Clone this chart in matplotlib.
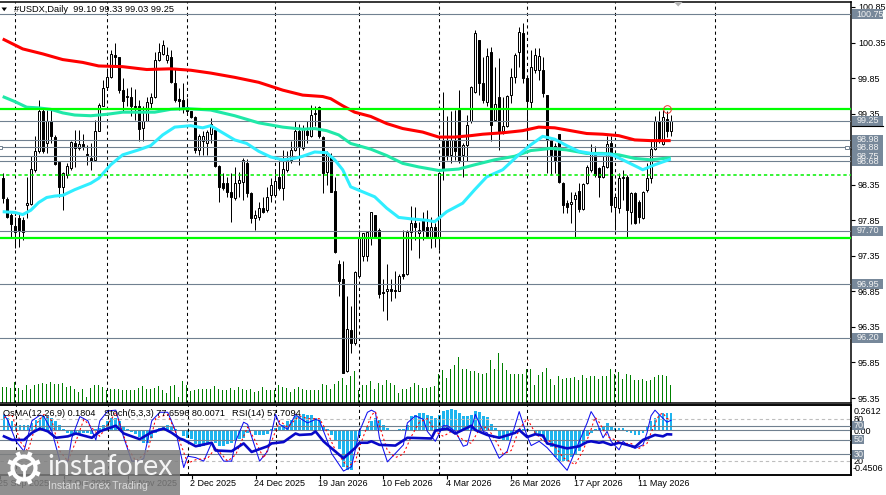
import numpy as np
import matplotlib
matplotlib.use("Agg")
import matplotlib.pyplot as plt
from matplotlib.patches import Rectangle, Circle, Polygon

plt.rcParams['font.family'] = ['Liberation Sans', 'DejaVu Sans']

opens = [98.44,98.15,97.92,97.77,97.88,97.85,98.07,98.08,98.56,98.82,
99.38,98.93,99.24,99.02,98.67,98.32,98.48,98.58,98.93,98.86,
98.92,98.78,98.72,98.70,99.11,99.46,99.72,99.86,100.18,100.14,
99.68,99.59,99.59,99.45,99.45,99.15,99.25,99.50,99.58,100.10,
100.19,100.11,100.14,99.78,99.55,99.54,99.44,99.38,99.30,98.84,
98.96,98.94,99.07,99.12,98.62,98.38,98.38,98.25,98.16,98.37,
98.39,98.65,98.24,97.88,97.89,98.02,98.00,98.21,98.21,98.46,
98.30,98.56,98.70,98.84,99.11,98.86,99.11,99.03,99.35,99.44,
99.02,98.53,98.75,98.26,97.23,97.02,95.73,96.31,96.12,97.07,
97.35,97.35,97.62,97.92,97.71,96.84,96.85,96.88,96.87,96.86,
97.09,97.09,97.69,97.81,97.67,97.85,97.76,97.62,97.76,97.62,
98.98,98.98,98.77,98.98,99.40,98.77,98.91,99.24,99.66,100.38,
99.78,99.52,100.22,99.26,99.58,99.10,99.17,99.61,99.86,100.21,
100.48,99.85,99.52,99.97,99.97,99.97,99.61,98.98,98.89,99.06,
98.38,98.09,98.08,98.15,98.26,98.01,98.37,98.56,98.77,98.58,
98.46,98.60,98.93,98.04,98.02,98.44,98.46,97.97,98.23,98.11,
97.88,98.27,98.44,98.85,99.25,98.92,99.27,99.10]
highs = [98.51,98.18,97.95,97.90,97.95,97.90,98.46,98.75,99.03,99.54,
99.43,99.40,99.43,99.05,98.67,98.53,98.65,98.96,99.12,99.12,
99.07,98.91,98.93,99.26,99.50,99.82,99.99,100.25,100.34,100.15,
99.85,99.71,99.72,99.69,99.54,99.45,99.59,99.64,100.22,100.34,
100.39,100.29,100.25,99.99,99.71,99.78,99.57,99.38,99.31,99.07,
99.10,99.12,99.29,99.14,98.63,98.51,98.46,98.51,98.60,98.53,
98.72,98.71,98.25,97.99,98.11,98.18,98.32,98.44,98.56,98.70,
98.84,98.82,98.96,99.24,99.21,99.19,99.24,99.47,99.45,99.45,
99.03,98.82,98.79,98.46,97.29,97.27,96.78,96.64,97.13,97.71,
97.67,97.69,97.97,97.92,97.74,97.03,97.24,97.03,97.13,97.10,
97.71,97.71,98.05,98.04,97.83,97.97,97.99,97.90,97.81,98.53,
99.66,99.31,99.38,99.40,99.68,98.93,99.33,99.74,100.53,100.39,
100.15,100.27,100.29,100.01,100.13,99.59,99.61,99.99,100.20,100.57,
100.62,99.87,100.25,100.27,100.27,100.15,99.61,99.00,98.93,99.07,
98.39,98.14,98.25,98.25,98.37,98.37,98.63,98.92,98.89,98.60,
98.75,99.03,99.03,98.23,98.51,98.56,98.49,98.25,98.25,98.14,
98.26,98.65,98.96,99.31,99.38,99.40,99.38,99.33]
lows = [98.09,97.88,97.62,97.46,97.48,97.57,97.88,98.07,98.53,98.79,
98.79,98.79,98.93,98.63,98.18,97.99,98.44,98.56,98.60,98.84,
98.84,98.63,98.56,98.68,99.10,99.45,99.71,99.85,100.01,99.64,
99.38,99.45,99.31,99.26,98.96,98.96,99.24,99.43,99.57,100.09,
100.18,100.06,99.78,99.52,99.40,99.36,99.33,99.29,98.79,98.77,
98.77,98.77,98.93,98.60,98.10,98.28,98.18,97.83,98.14,98.18,
98.14,98.18,97.81,97.71,97.85,97.95,97.97,98.11,98.18,98.28,
98.14,98.53,98.65,98.83,98.63,98.84,98.93,99.02,99.17,99.00,
98.23,98.35,98.25,97.39,96.78,95.70,95.72,95.98,96.10,97.06,
97.28,97.28,97.50,97.60,96.76,96.57,96.45,96.71,96.75,96.85,
97.03,97.08,97.43,97.57,97.32,97.57,97.60,97.46,97.48,97.43,
98.42,98.70,98.65,98.70,98.65,98.46,98.68,99.22,99.64,99.61,
99.50,99.45,98.96,99.24,98.84,99.07,99.16,99.50,99.78,100.01,
99.78,99.00,99.43,99.92,99.82,99.59,98.51,98.49,98.51,98.37,
97.95,97.95,97.81,97.62,97.97,98.00,98.36,98.53,98.46,98.18,
98.45,98.58,97.97,97.71,97.95,98.14,97.62,97.80,97.80,97.81,
97.87,98.25,98.38,98.84,98.93,98.91,99.02,99.03]
closes = [98.16,97.90,97.80,97.69,97.71,97.69,98.09,98.57,98.82,99.38,
98.82,99.24,99.03,98.64,98.32,98.51,98.62,98.95,98.86,98.92,
98.89,98.77,98.69,99.11,99.47,99.71,99.86,100.19,100.14,99.68,
99.53,99.60,99.45,99.44,99.14,99.25,99.51,99.58,100.10,100.21,
100.31,100.18,99.79,99.54,99.53,99.43,99.38,99.30,98.84,99.04,
99.04,99.09,99.21,98.62,98.32,98.31,98.25,98.18,98.38,98.42,
98.70,98.23,97.88,97.93,98.02,97.97,98.18,98.35,98.40,98.30,
98.57,98.70,98.84,99.11,98.89,99.14,99.05,99.33,99.36,99.03,
98.51,98.79,98.25,97.41,97.00,95.70,96.32,96.13,97.12,97.60,
97.67,97.69,97.96,97.61,96.81,96.83,96.89,96.86,96.86,97.07,
97.07,97.69,97.81,97.76,97.71,97.71,97.63,97.76,97.61,98.51,
98.56,98.77,98.98,98.83,98.68,98.91,99.19,99.72,100.48,99.78,
99.54,100.16,99.19,99.48,99.10,99.18,99.60,99.86,100.18,100.50,
99.85,99.53,100.00,100.18,100.16,99.64,98.98,98.77,98.68,98.39,
98.07,98.04,98.11,98.20,98.01,98.36,98.60,98.79,98.49,98.46,
98.61,98.92,98.07,98.18,98.44,98.46,98.00,98.24,97.81,97.90,
98.25,98.45,98.85,99.25,98.96,99.30,99.11,99.25]

volumes = [47,47,45,62,45,37,54,42,54,57,59,57,62,55,57,59,47,49,42,32,42,16,44,54,54,
47,39,40,42,42,39,39,37,39,44,49,42,42,44,49,39,30,50,52,16,65,52,36,39,40,
40,40,40,49,40,37,39,44,39,47,40,39,42,32,36,46,39,39,39,52,46,44,32,42,46,
40,39,39,39,39,57,52,40,57,64,75,54,79,94,37,54,54,64,40,60,54,67,60,52,30,
42,40,46,60,54,44,44,47,50,87,97,75,100,112,137,100,102,94,94,90,87,89,127,100,150,
120,97,87,87,87,87,102,100,52,82,92,105,70,54,80,72,75,75,77,69,82,74,80,80,70,
79,80,100,87,92,70,87,82,67,67,72,65,67,76,82,82,79,52]

osma = [.157,.125,.092,.059,.052,.052,.059,.075,.108,.125,.141,.141,.125,.092,.059,.016,-.023,-.033,-.039,-.039,
-.023,-.023,-.033,.010,.026,.059,.092,.125,.125,.092,.043,.010,-.013,-.039,-.066,-.121,-.121,-.072,-.023,.026,
.043,.059,.043,.010,-.007,-.056,-.072,-.089,-.138,-.170,-.154,-.121,-.105,-.121,-.154,-.154,-.138,-.121,-.105,-.089,
-.072,-.023,-.007,-.046,-.046,-.046,-.039,.010,.026,.043,.059,.092,.108,.141,.141,
.164,.157,.151,.125,.108,.043,.010,-.046,-.105,-.187,-.367,-.400,-.400,-.170,-.056,-.007,.043,.092,.125,.108,
.059,.026,0,0,.010,.016,.059,.141,.157,.174,.174,.157,.141,.125,.151,.200,.210,.216,.207,.174,
.141,.141,.157,.200,.190,.141,.134,.069,.020,-.066,-.105,-.105,-.039,-.007,.016,.010,.010,-.007,-.023,-.056,
-.072,-.105,-.170,-.269,-.302,-.308,-.308,-.269,-.236,-.203,-.138,-.056,-.023,.010,.026,
.033,.075,.043,.020,.020,.020,-.013,-.023,-.046,-.046,-.023,.043,.092,.125,.157,.174,.180,.1804]

ma_red_x = [0,5,10,15,20,24,30,36,42,47,52,58,64,70,75,80,82,85,88,92,96,100,105,109,113,117,120,125,130,134,138,142,146,150,154,158,162,167]
ma_red = [100.40,100.26,100.19,100.11,100.07,100.02,100.01,99.97,99.98,99.96,99.92,99.86,99.79,99.68,99.61,99.59,99.56,99.46,99.37,99.31,99.21,99.14,99.09,99.02,99.02,99.04,99.06,99.08,99.11,99.16,99.15,99.11,99.07,99.06,99.04,98.98,98.97,98.97]
ma_teal_x = [0,3,6,9,12,15,18,22,26,30,34,38,42,46,52,58,64,70,75,78,81,84,87,92,96,100,104,109,114,118,123,128,132,137,141,146,150,154,158,162,167]
ma_teal = [99.59,99.52,99.44,99.43,99.41,99.36,99.33,99.32,99.34,99.37,99.37,99.37,99.41,99.42,99.40,99.32,99.22,99.16,99.13,99.14,99.11,99.05,98.93,98.85,98.76,98.65,98.60,98.55,98.57,98.63,98.70,98.75,98.83,98.86,98.84,98.79,98.79,98.77,98.72,98.70,98.73]
ma_cyan_x = [0,3,5,7,9,11,13,15,18,22,24,27,30,34,37,40,43,47,50,52,55,58,61,64,67,70,73,75,78,81,83,85,87,90,93,96,99,102,106,108,111,115,118,121,125,129,132,135,138,141,144,148,152,155,159,160,163,167]
ma_cyan = [97.97,97.96,97.93,97.99,98.10,98.17,98.19,98.20,98.28,98.37,98.44,98.63,98.77,98.84,98.90,99.05,99.16,99.18,99.15,99.18,99.08,98.98,98.93,98.82,98.74,98.70,98.72,98.75,98.81,98.80,98.70,98.56,98.32,98.25,98.18,98.02,97.89,97.87,97.85,97.83,97.97,98.09,98.28,98.46,98.56,98.77,98.91,99.03,98.99,98.90,98.82,98.78,98.78,98.70,98.59,98.56,98.63,98.71]

stoch_x = [0,1,3,5,7,9,10,12,14,16,17,19,21,23,24,26,28,30,32,34,35,37,39,41,43,45,46,48,50,52,55,57,58,60,61,64,66,68,69,71,73,74,
76,78,79,81,82,85,87,89,91,92,93,94,96,98,100,101,103,105,106,108,110,111,113,115,116,118,120,121,124,126,129,131,132,134,136,141,143,146,147,
148,150,151,152,154,155,156,158,160,161,162,163,164,166,167]
stoch = [86,77,48,34,77,85,83,62,20,20,53,83,77,50,77,91,92,53,20,20,24,77,89,89,62,11,27,25,20,46,20,20,48,75,72,20,34,86,72,65,86,81,
74,79,77,48,31,6,12,62,89,92,89,53,19,31,43,74,84,79,62,48,70,70,62,41,43,86,62,60,24,34,90,55,42,48,39,7,34,74,90,
81,53,62,48,36,48,43,38,43,60,84,92,86,75,77.6596]
signal_x = [0,2,4,6,8,10,12,14,16,18,20,22,24,28,31,33,36,38,41,44,46,48,51,53,56,58,61,63,65,67,69,71,73,74,
76,79,81,83,86,88,89,91,92,93,94,96,98,100,102,104,106,108,110,112,115,117,119,121,123,125,127,129,131,133,135,137,140,143,145,147,148,149,
151,153,155,157,159,161,162,164,165,166,167]
signal = [81,86,48,34,72,86,77,34,20,48,79,67,55,89,39,20,34,81,86,48,17,22,24,39,20,29,68,48,24,48,77,68,79,84,
80,80,60,35,12,20,40,70,85,90,70,35,25,30,55,75,80,62,55,62,50,45,65,68,50,30,35,65,80,60,48,48,25,15,35,65,82,75,
55,50,45,45,38,45,60,85,88,80,80.0071]
rsi_x = [0,2,5,7,9,11,13,16,18,22,24,28,30,34,37,40,42,44,45,48,52,53,57,60,62,66,67,70,73,
74,77,78,80,81,85,88,89,91,92,94,98,101,107,108,111,113,117,118,121,124,128,129,131,133,135,136,141,144,146,147,149,
150,152,154,156,158,160,163,165,166,167]
rsi = [55,50,50,60,66,62,53,55,59,53,62,70,59,51,61,66,60,52,50,41,46,35,34,45,33,41,45,47,59,
57,58,62,48,43,24,39,46,46,48,43,42,53,52,63,66,59,70,64,57,53,60,64,54,58,56,45,38,41,47,48,46,
47,43,46,43,40,50,57,55,58,57.7094]

tick_idx = [-1,15,31,47,63,79,95,111,127,143,159]
tick_labels = ['25 Sep 2025','17 Oct 2025','10 Nov 2025','2 Dec 2025','24 Dec 2025','19 Jan 2026','10 Feb 2026','4 Mar 2026','26 Mar 2026','17 Apr 2026','11 May 2026']
sep_idx = [3,26,46,68,89,109,131,153,178]
price_ticks = [100.85,100.35,99.85,99.35,98.85,98.35,97.85,97.35,96.85,96.35,95.85,95.35]
gray_levels = [100.75,99.25,98.98,98.88,98.75,98.68,97.70,96.95,96.20]
green_solid = [99.42,97.60]
green_dashed = [98.49]
osc_solid = [70,50,30]
osc_dashed = [80,20]

W, H = 886, 495
fig = plt.figure(figsize=(W/100, H/100), dpi=100, facecolor='white')

def axes_px(x0, y0, x1, y1, **kw):
    return fig.add_axes([x0/W, 1-y1/H, (x1-x0)/W, (y1-y0)/H], **kw)

LEFT, RIGHT = 0, 851
XLIM = ((LEFT-2.7)/4, (RIGHT-2.7)/4)

# ---------- main pane
ax = axes_px(LEFT, 1.5, RIGHT, 402.5)
ax.set_xlim(*XLIM)
ax.set_ylim(100.35-(402.5-42.5)/71.1, 100.35+(42.5-1.5)/71.1)
idx = np.arange(len(closes))
o, h, l, c = map(np.array, (opens, highs, lows, closes))

axv = ax.twinx()
axv.set_ylim(0, 401*3)
axv.bar(idx, volumes, width=0.25, color='#008000', linewidth=0, zorder=2)
axv.axis('off')
axv.set_zorder(1)
ax.set_zorder(2)
ax.patch.set_alpha(0)

ax.vlines(idx, l, h, color='black', lw=0.72, zorder=3)
up = c >= o
bottoms = np.minimum(o, c)
heights = np.abs(c-o)
ax.bar(idx, heights, bottom=bottoms, width=0.5, color=np.where(up, 'white', 'black'),
       edgecolor='black', linewidth=0.72, zorder=4)

ax.plot(ma_red_x, ma_red, color='#FF0000', lw=2.2, zorder=7.3, solid_capstyle='butt')
ax.plot(ma_teal_x, ma_teal, color='#20E8A8', lw=2.2, zorder=7.3, solid_capstyle='butt')
ax.plot(ma_cyan_x, ma_cyan, color='#30EEFF', lw=2.2, zorder=7.4, solid_capstyle='butt')

for lv in gray_levels:
    ax.axhline(lv, color='#708090', lw=0.8, zorder=7)
for lv in green_solid:
    ax.axhline(lv, color='#00FF00', lw=1.6, zorder=8)
for lv in green_dashed:
    ax.axhline(lv, color='#00F000', lw=1.1, ls=(0, (2.2, 1.8)), zorder=8)
for s in sep_idx:
    ax.axvline(s, color='black', lw=0.75, ls=(0, (3, 3)), zorder=3)
ax.plot([166], [99.42], marker='o', ms=5.5, mfc='none', mec='#F03030', mew=0.7, zorder=9)

ax.set_yticks(price_ticks)
ax.yaxis.tick_right()
ax.set_yticklabels([f'{p:.2f}' for p in price_ticks], fontsize=6.5)
ax.tick_params(axis='y', length=3, width=0.8, pad=2, colors='black')
ax.set_xticks([])
for sp in ('left',):
    ax.spines[sp].set_visible(False)
for sp in ('top','right','bottom'):
    ax.spines[sp].set_linewidth(1.1)

# ---------- lower pane
axo = axes_px(LEFT, 404.5, RIGHT, 475.3)
axo.set_xlim(*XLIM)
axo.set_ylim(-0.4506, 0.2612)
axo.bar(idx, osma, width=0.72, color='#1EB4EE', linewidth=0, zorder=2)
axo.axhline(0, color='#708090', lw=0.8, zorder=3)
axo.set_yticks([]); axo.set_xticks(tick_idx)
axo.set_xticklabels([])
axo.tick_params(axis='x', length=3, width=0.8)
axo.spines['left'].set_visible(False)
for sp in ('top','right','bottom'):
    axo.spines[sp].set_linewidth(1.1)

axs = axo.twinx()
axs.set_ylim(0, 100)
axs.set_yticks([])
axs.patch.set_alpha(0)
axs.spines['left'].set_visible(False)
for sp in ('top','right','bottom'):
    axs.spines[sp].set_linewidth(1.1)
for lv in osc_dashed:
    axs.axhline(lv, color='#BEBEBE', lw=0.8, ls=(0, (3, 2.6)), zorder=1)
for lv in osc_solid:
    axs.axhline(lv, color='#708090', lw=0.8, zorder=3)
for s in sep_idx:
    axs.axvline(s, color='black', lw=0.75, ls=(0, (3, 3)), zorder=3)
axs.plot(stoch_x, stoch, color='#1010F0', lw=0.75, zorder=4)
axs.plot(signal_x, signal, color='#FF0000', lw=0.75, ls=(0, (2, 2.5)), zorder=4)
axs.plot(rsi_x, rsi, color='#0808C8', lw=1.9, zorder=5)

# ---------- overlay in pixel coordinates
ov = fig.add_axes([0, 0, 1, 1], zorder=20)
ov.set_xlim(0, W); ov.set_ylim(H, 0); ov.axis('off'); ov.patch.set_alpha(0)

FS = 6.5
def box_label(txt, y, x0=852, x1=883, h=10, pad=4.5):
    ov.add_patch(Rectangle((x0, y-h/2), x1-x0, h, fc='#77889A', ec='none', zorder=2))
    ov.text(x0+pad, y, txt, color='#F2F2F2', fontsize=FS, va='center', ha='left', zorder=3)

def price_y(p):
    return 42.5+(100.35-p)*71.1

for lv in [100.75, 99.25, 97.70, 96.95, 96.20, 98.75, 98.88, 98.98, 98.68]:
    box_label(f'{lv:.2f}', price_y(lv))
ov.plot([852, 883], [125.5, 125.5], color='black', lw=0.8, zorder=4)

# oscillator scale labels
ov.text(854, 411.7, '0.2612', fontsize=FS, va='center', zorder=1)
ov.text(854, 419.5, '80', fontsize=FS, va='center', zorder=1)
ov.text(854, 431, '0.00', fontsize=FS, va='center', zorder=1)
ov.text(854, 461.5, '20', fontsize=FS, va='center', zorder=1)
ov.text(853, 468.5, '-0.4506', fontsize=FS, va='center', zorder=1)
for lv in osc_solid:
    y = 404.5+(100-lv)/100*70.8
    box_label(str(lv), y, x1=864, h=9, pad=1.8)

# header texts
ov.text(14, 9.3, '#USDX,Daily  99.10 99.33 99.03 99.25', fontsize=6.7, va='center', color='black')
ov.add_patch(Polygon([[1.5, 7.5], [7, 7.5], [4.2, 11.2]], fc='black', ec='none'))
ov.add_patch(Polygon([[674, 2], [682.5, 2], [678.2, 6.5]], fc='#B4B4B4', ec='none'))
ov.text(3, 413.5, 'OsMA(12,26,9) 0.1804', fontsize=6.55, va='center')
ov.text(104, 413.5, 'Stoch(5,3,3) 77.6596 80.0071', fontsize=6.55, va='center')
ov.text(232, 413.5, 'RSI(14) 57.7094', fontsize=6.75, va='center')

# selection handles on the 98.88 line
ov.add_patch(Rectangle((-1, 145.5), 3.5, 3.5, fc='white', ec='#708090', lw=0.7))
ov.add_patch(Rectangle((845.5, 145.5), 3.5, 3.5, fc='white', ec='#708090', lw=0.7))

# date labels
for t, lab in zip(tick_idx, tick_labels):
    ov.text(2.7+4*t-0.5, 484, lab, fontsize=6.5, va='center', ha='left', zorder=1)

# watermark
ov.add_patch(Rectangle((0, 450), 180, 45, fc='#7E7E7E', ec='none', alpha=0.86, zorder=10))
ov.text(47.5, 467, 'instaforex', fontsize=20.5, color='#F4F4F4', va='center', ha='left', family='Lato', zorder=11)
ov.text(48, 486, 'Instant Forex Trading', fontsize=7.6, color='#D8D8D8', va='center', ha='left', zorder=11)
cx, cy = 24, 468
ov.add_patch(Circle((cx, cy), 11.5, fc='none', ec='white', lw=3, zorder=11))
ov.add_patch(Circle((cx, cy), 3.5, fc='white', ec='none', zorder=11))
for a in np.arange(0, 360, 45) + 22.5:
    ca, sa = np.cos(np.radians(a)), np.sin(np.radians(a))
    ov.plot([cx+11*ca, cx+17*ca], [cy+11*sa, cy+17*sa], color='white', lw=3.2, solid_capstyle='butt', zorder=11)
for a in (90, 210, 330):
    ca, sa = np.cos(np.radians(a)), np.sin(np.radians(a))
    ov.plot([cx, cx+10*ca], [cy, cy+10*sa], color='white', lw=2, zorder=11)

fig.savefig('out.png', dpi=100)
